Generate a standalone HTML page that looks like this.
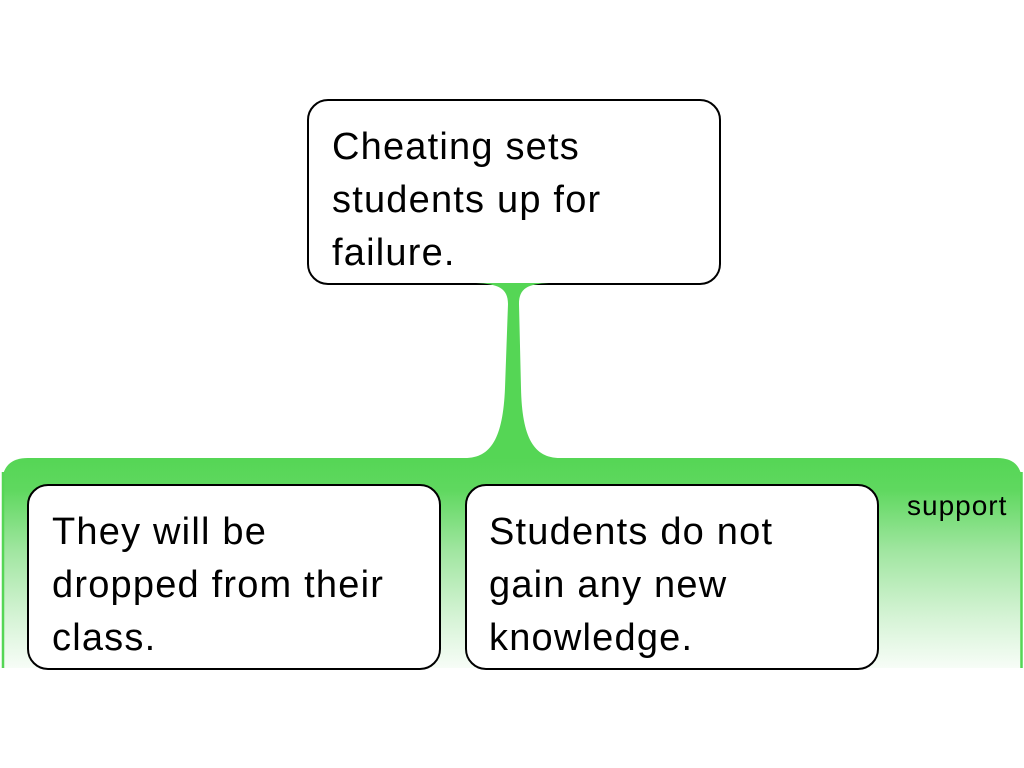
<!DOCTYPE html>
<html>
<head>
<meta charset="utf-8">
<style>
  html, body { margin: 0; padding: 0; background: #ffffff; }
  body { width: 1024px; height: 768px; overflow: hidden; }
  svg { display: block; }
  text { font-family: "Liberation Sans", Arial, sans-serif; fill: #000; }
</style>
</head>
<body>
<svg width="1024" height="768" viewBox="0 0 1024 768" xmlns="http://www.w3.org/2000/svg">
  <defs>
    <linearGradient id="g" x1="0" y1="458" x2="0" y2="668" gradientUnits="userSpaceOnUse">
      <stop offset="0" stop-color="#55d655"/>
      <stop offset="0.15" stop-color="#5fd85f"/>
      <stop offset="0.45" stop-color="#a2e6a2"/>
      <stop offset="0.75" stop-color="#d4f3d4"/>
      <stop offset="1" stop-color="#f7fdf7"/>
    </linearGradient>
  </defs>

  <!-- green support band -->
  <path d="M2,668 L2,484 Q2,458 28,458 L997,458 Q1022,458 1022,483 L1022,668 Z" fill="url(#g)"/>
  <line x1="3" y1="472" x2="3" y2="668" stroke="#55d655" stroke-width="2.5"/>
  <line x1="1021.5" y1="472" x2="1021.5" y2="668" stroke="#55d655" stroke-width="2.5"/>

  <!-- top box -->
  <rect x="308" y="100" width="412" height="184" rx="20" ry="20" fill="#fff" stroke="#000" stroke-width="2"/>

  <!-- connector stem (drawn over box border) -->
  <path d="M476,283 L549,283 C528,284 519,288 519,304 L521,388 C522,438 534,458 560,458 L465,458 C491,458 503,438 505,388 L508,304 C508,288 498,284 476,283 Z" fill="#55d655"/>

  <text font-size="38" letter-spacing="1.2">
    <tspan x="332" y="159">Cheating sets</tspan>
    <tspan x="332" y="212">students up for</tspan>
    <tspan x="332" y="265">failure.</tspan>
  </text>

  <!-- bottom left box -->
  <rect x="28" y="485" width="412" height="184" rx="20" ry="20" fill="#fff" stroke="#000" stroke-width="2"/>
  <text font-size="38" letter-spacing="1.2">
    <tspan x="52" y="544">They will be</tspan>
    <tspan x="52" y="597">dropped from their</tspan>
    <tspan x="52" y="650">class.</tspan>
  </text>

  <!-- bottom right box -->
  <rect x="466" y="485" width="412" height="184" rx="20" ry="20" fill="#fff" stroke="#000" stroke-width="2"/>
  <text font-size="38" letter-spacing="1.2">
    <tspan x="489" y="544">Students do not</tspan>
    <tspan x="489" y="597">gain any new</tspan>
    <tspan x="489" y="650">knowledge.</tspan>
  </text>

  <!-- label -->
  <text x="907" y="515" font-size="28" letter-spacing="1">support</text>
</svg>
</body>
</html>
